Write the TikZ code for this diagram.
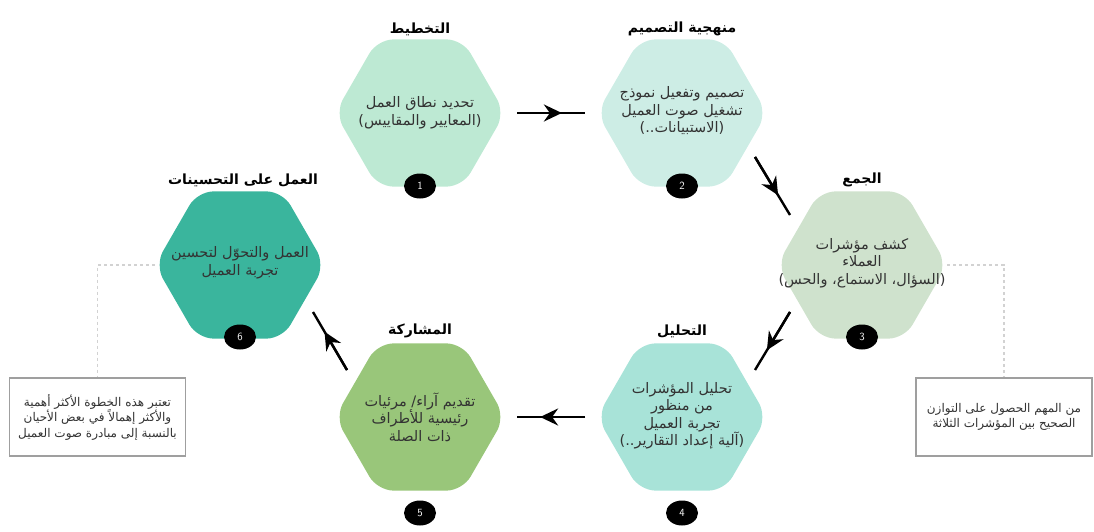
\documentclass[tikz,border=0pt]{standalone}
\usepackage{fontspec}
\newfontfamily\arabicfont[Script=Arabic]{DejaVu Sans}
\TeXXeTstate=1
\usetikzlibrary{shapes.geometric,arrows.meta,calc}
\newcommand{\ar}[1]{\beginR #1\endR}
\definecolor{hexA}{HTML}{BDE9D3}
\definecolor{hexB}{HTML}{CDEDE5}
\definecolor{hexC}{HTML}{CFE2CD}
\definecolor{hexD}{HTML}{A8E3D8}
\definecolor{hexE}{HTML}{99C67A}
\definecolor{hexF}{HTML}{3AB59D}
\definecolor{txtgray}{HTML}{333333}
\tikzset{
  hexa/.style={regular polygon, regular polygon sides=6, minimum size=170pt, inner sep=0pt, rounded corners=16pt, draw=none},
  body/.style={align=center, font=\arabicfont\fontsize{14.5}{17.5}\selectfont, text=txtgray},
  title/.style={font=\arabicfont\bfseries\fontsize{14}{15}\selectfont},
  num/.style={ellipse, fill=black, text=white, minimum width=32pt, minimum height=25pt, inner sep=0pt, font=\sffamily\fontsize{11}{11}\selectfont},
  flow/.style={line width=2.4pt},
  flowtip/.style={line width=2.4pt, -{Stealth[length=18pt,width=17pt,inset=6pt]}},
  note/.style={draw=gray!75, line width=1.2pt, fill=white, minimum width=176pt, minimum height=78pt, align=center, font=\arabicfont\fontsize{12}{15.5}\selectfont, text=txtgray},
  link/.style={draw=gray!35, dashed, line width=1.5pt}
}
\begin{document}
\begin{tikzpicture}[x=1pt, y=-1pt]
\useasboundingbox (0,0) rectangle (1094,532);
% steps
\node[hexa, fill=hexA] (h1) at (420,113) {};
\node[hexa, fill=hexB] (h2) at (682,113) {};
\node[hexa, fill=hexC] (h3) at (862,265) {};
\node[hexa, fill=hexD] (h4) at (682,417) {};
\node[hexa, fill=hexE] (h5) at (420,417) {};
\node[hexa, fill=hexF] (h6) at (240,265) {};
\node[body] (b1) at (420,113) {\ar{تحديد نطاق العمل}\\\ar{(المعايير والمقاييس)}};
\node[body] (b2) at (682,111) {\ar{تصميم وتفعيل نموذج}\\\ar{تشغيل صوت العميل}\\\ar{(الاستبيانات..)}};
\node[body] (b3) at (862,263) {\ar{كشف مؤشرات}\\\ar{العملاء}\\\ar{(السؤال، الاستماع، والحس)}};
\node[body] (b4) at (682,416) {\ar{تحليل المؤشرات}\\\ar{من منظور}\\\ar{تجربة العميل}\\\ar{(آلية إعداد التقارير..)}};
\node[body] (b5) at (420,417) {\ar{تقديم آراء/ مرئيات}\\\ar{رئيسية للأطراف}\\\ar{ذات الصلة}};
\node[body] (b6) at (240,263) {\ar{العمل والتحوّل لتحسين}\\\ar{تجربة العميل}};
% titles
\node[title] (t1) at (420,29) {\ar{التخطيط}};
\node[title] (t2) at (682,29) {\ar{منهجية التصميم}};
\node[title] (t3) at (862,180) {\ar{الجمع}};
\node[title] (t4) at (682,331) {\ar{التحليل}};
\node[title] (t5) at (420,331) {\ar{المشاركة}};
\node[title] (t6) at (243,180) {\ar{العمل على التحسينات}};
% numbers
\node[num] (n1) at (420,186) {1};
\node[num] (n2) at (682,186) {2};
\node[num] (n3) at (862,337) {3};
\node[num] (n4) at (682,513) {4};
\node[num] (n5) at (420,513) {5};
\node[num] (n6) at (240,337) {6};
% connectors
\coordinate (a1) at (517,113); \coordinate (a2) at (585,113);
\coordinate (c1) at (755,157); \coordinate (c2) at (790,215);
\coordinate (d1) at (790,312); \coordinate (d2) at (755,370);
\coordinate (e1) at (585,417); \coordinate (e2) at (517,417);
\coordinate (f1) at (347,370); \coordinate (f2) at (313,312);
\foreach \s/\e in {a1/a2, c1/c2, d1/d2, e1/e2, f1/f2}{
  \draw[flow] (\s) -- (\e);
  \draw[flowtip] (\s) -- ($(\s)!0.66!(\e)$);
}
% notes
\node[note] (nl) at (97.5,417) {\ar{تعتبر هذه الخطوة الأكثر أهمية}\\\ar{والأكثر إهمالاً في بعض الأحيان}\\\ar{بالنسبة إلى مبادرة صوت العميل}};
\node[note] (nr) at (1004,417) {\ar{من المهم الحصول على التوازن}\\\ar{الصحيح بين المؤشرات الثلاثة}};
\draw[link] (h6.west) -| (nl.north);
\draw[link] (h3.east) -| (nr.north);
\end{tikzpicture}
\end{document}
